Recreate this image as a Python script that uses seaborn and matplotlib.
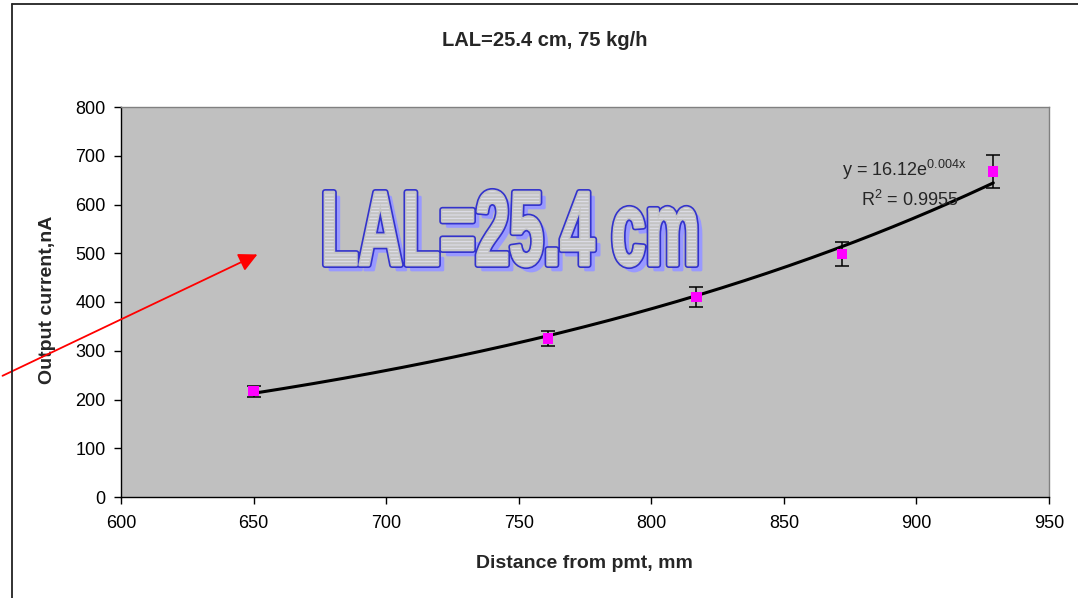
import numpy as np
import matplotlib
matplotlib.use('Agg')
import matplotlib.pyplot as plt
import matplotlib.patheffects as pe
import seaborn as sns
import pandas as pd
from matplotlib.textpath import TextPath
from matplotlib.font_manager import FontProperties
from matplotlib.patches import PathPatch
from matplotlib.transforms import Affine2D
from matplotlib.lines import Line2D

# data
distance = [650, 761, 817, 872, 929]
current = [217, 325, 410, 498, 668]
current_err = [11, 16, 20, 25, 34]

x_ticks = [600, 650, 700, 750, 800, 850, 900, 950]
y_ticks = [0, 100, 200, 300, 400, 500, 600, 700, 800]

title = 'LAL=25.4 cm, 75 kg/h'
x_label = 'Distance from pmt, mm'
y_label = 'Output current,nA'
eq_text = r'y = 16.12e$^{\mathrm{0.004x}}$'
r2_text = r'R$^{\mathrm{2}}$ = 0.9955'
banner = 'LAL=25.4 cm'

df = pd.DataFrame({'dist': distance, 'cur': current, 'err': current_err})

# exponential trendline fitted to the points (as the spreadsheet did)
b, ln_a = np.polyfit(df['dist'], np.log(df['cur']), 1)
fit_x = np.linspace(df['dist'].min(), df['dist'].max(), 200)
fit_df = pd.DataFrame({'dist': fit_x, 'cur': np.exp(ln_a) * np.exp(b * fit_x)})

sns.set_theme(style='white')
plt.rcParams['font.family'] = ['Liberation Sans', 'DejaVu Sans']
plt.rcParams['mathtext.fontset'] = 'custom'
plt.rcParams['mathtext.rm'] = 'Liberation Sans'
plt.rcParams['mathtext.it'] = 'Liberation Sans:italic'
plt.rcParams['hatch.linewidth'] = 0.7

W, H = 1078, 598
fig = plt.figure(figsize=(W / 100, H / 100), dpi=100)
fig.patch.set_facecolor('white')
ax = fig.add_axes([121 / W, 1 - 497 / H, 928 / W, 390 / H])
ax.set_facecolor('#c0c0c0')

sns.lineplot(data=fit_df, x='dist', y='cur', color='black', lw=2.2, ax=ax, zorder=3)
ax.errorbar(df['dist'], df['cur'], yerr=df['err'], fmt='none', ecolor='black',
            elinewidth=1.1, capsize=5, capthick=1.1, zorder=4)
sns.scatterplot(data=df, x='dist', y='cur', marker='s', s=55, color='#ff00ff',
                edgecolor='none', ax=ax, zorder=5)

ax.set_xlim(600, 950)
ax.set_ylim(0, 800)
ax.set_xticks(x_ticks)
ax.set_yticks(y_ticks)
ax.tick_params(axis='both', direction='out', length=5, width=1, colors='black',
               labelsize=13, left=True, bottom=True)
ax.tick_params(axis='y', pad=6)
ax.tick_params(axis='x', pad=8)
for side in ['left', 'bottom']:
    ax.spines[side].set_color('black')
    ax.spines[side].set_linewidth(1)
for side in ['top', 'right']:
    ax.spines[side].set_color('#808080')
    ax.spines[side].set_linewidth(1)

ax.set_xlabel(x_label, fontsize=14, fontweight='bold')
ax.set_ylabel(y_label, fontsize=14, fontweight='bold')
ax.xaxis.label.set_va('center')
ax.yaxis.label.set_va('center')
ax.xaxis.set_label_coords((584 - 121) / 928, -(563 - 497) / 390)
ax.yaxis.set_label_coords((48 - 121) / 928, (497 - 300) / 390)

fig.text(545 / W, 1 - 41 / H, title, ha='center', va='center',
         fontsize=14.5, fontweight='bold')

ax.text(872, 671, eq_text, fontsize=13, va='center', ha='left', zorder=6)
ax.text(879, 609, r2_text, fontsize=13, va='center', ha='left', zorder=6)

# word-art banner, fitted to its box in the picture
tp = TextPath((0, 0), banner, size=100,
              prop=FontProperties(family=['Liberation Sans Narrow', 'Liberation Sans'],
                                  weight='bold'))
ext = tp.get_extents()
fat = 2.0  # extra stroke to make the glyphs heavier
bx0, bx1, by_top, by_bot = 325, 696, 191, 266
def box_transform(dx=0, dy=0):
    sx = (bx1 - bx0) / W / ext.width
    sy = (by_bot - by_top) / H / ext.height
    return (Affine2D().translate(-ext.x0, -ext.y0).scale(sx, sy)
            .translate((bx0 + dx) / W, 1 - (by_bot + dy) / H) + fig.transFigure)

ax.add_patch(PathPatch(tp, transform=box_transform(5, 5), facecolor='#9999ff',
                       edgecolor='#9999ff', linewidth=fat, joinstyle='round',
                       clip_on=False, zorder=1.5))
ax.add_patch(PathPatch(tp, transform=box_transform(), facecolor='#c4c4c4',
                       edgecolor='#c4c4c4', linewidth=fat, joinstyle='round',
                       clip_on=False, zorder=1.6,
                       path_effects=[pe.Stroke(linewidth=fat + 2.4, foreground='#3333cc',
                                               joinstyle='round'),
                                     pe.Normal()]))
ax.add_patch(PathPatch(tp, transform=box_transform(), facecolor='none',
                       edgecolor='#e2e2ee', hatch='-----', linewidth=0,
                       clip_on=False, zorder=1.7))

# red arrow pointing at the banner
ax.annotate('', xy=(652.4, 500), xycoords='data',
            xytext=(0.0, 1 - 377 / H), textcoords='figure fraction',
            arrowprops=dict(arrowstyle='-|>', color='red', lw=1.3, mutation_scale=28),
            annotation_clip=False, zorder=6)

# outer chart frame (runs off the right and bottom edges)
fig.add_artist(Line2D([12 / W, 12 / W], [0, 1 - 4 / H], color='#222222', lw=1.3))
fig.add_artist(Line2D([12 / W, 1], [1 - 4 / H, 1 - 4 / H], color='#222222', lw=1.3))

fig.savefig('out.png', dpi=100)
plt.close(fig)
